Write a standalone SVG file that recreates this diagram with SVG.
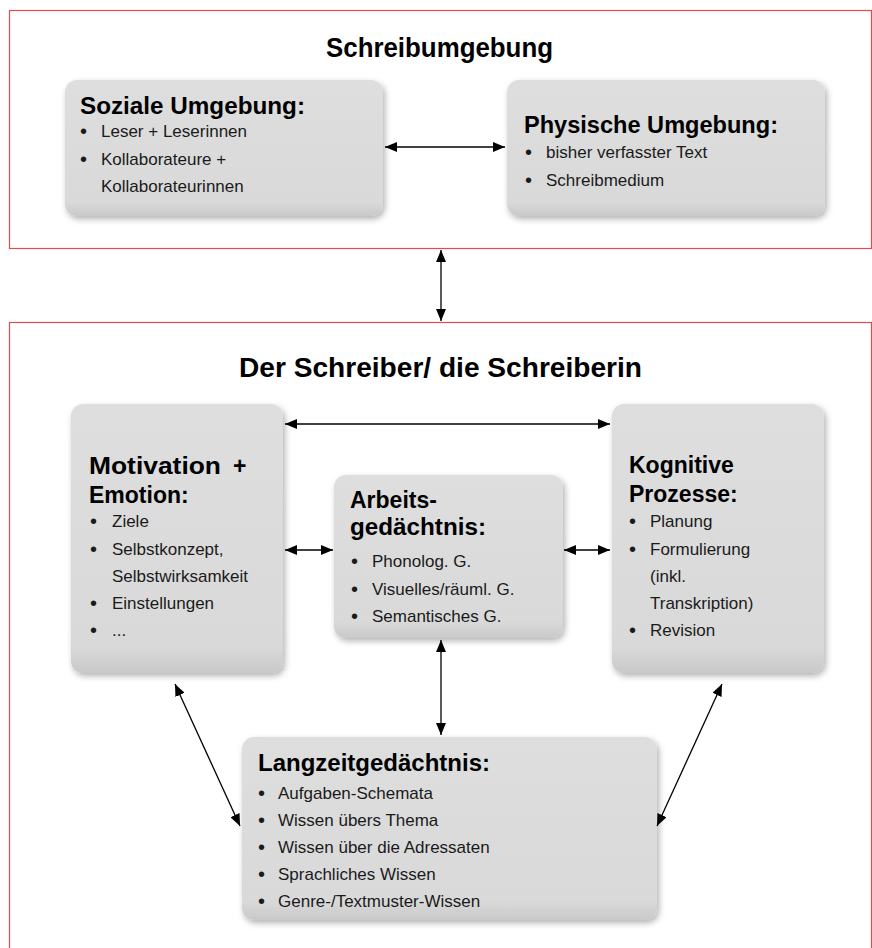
<svg xmlns="http://www.w3.org/2000/svg" width="872" height="948" viewBox="0 0 872 948">
<defs>
<linearGradient id="boxg" x1="0" y1="0" x2="0" y2="1">
<stop offset="0" stop-color="#dedede"/>
<stop offset="0.9" stop-color="#d9d9d9"/>
<stop offset="1" stop-color="#c9c9c9"/>
</linearGradient>
<filter id="sh" x="-10%" y="-10%" width="130%" height="130%">
<feDropShadow dx="2" dy="3" stdDeviation="3" flood-color="#000" flood-opacity="0.3"/>
</filter>
<marker id="ah" viewBox="0 0 12 10" refX="12" refY="5" markerWidth="12" markerHeight="10" markerUnits="userSpaceOnUse" orient="auto-start-reverse">
<path d="M0,0 L12,5 L0,10 Z" fill="#000"/>
</marker>
<style>
.frame{fill:none;stroke:#e04a50;stroke-width:1.2}
.box{fill:url(#boxg);filter:url(#sh)}
.title{font-family:"Liberation Sans",Arial,sans-serif;font-weight:bold;font-size:27px;fill:#000}
.hd{font-family:"Liberation Sans",Arial,sans-serif;font-weight:bold;font-size:23px;fill:#000}
.tx{font-family:"Liberation Sans",Arial,sans-serif;font-size:17px;fill:#1a1a1a}
.bu{font-family:"Liberation Sans",Arial,sans-serif;font-size:20px;fill:#1a1a1a}
.con{stroke:#000;stroke-width:1.3;fill:none;marker-start:url(#ah);marker-end:url(#ah)}
</style>
</defs>
<rect width="872" height="948" fill="#fff"/>

<g id="frame-umgebung">
<rect class="frame" x="9.5" y="10.5" width="862" height="238"/>
<text class="title" x="326" y="57" textLength="227" lengthAdjust="spacingAndGlyphs">Schreibumgebung</text>
</g>
<g id="frame-schreiber">
<rect class="frame" x="9.5" y="322.5" width="862" height="640"/>
<text class="title" x="239" y="377" textLength="403" lengthAdjust="spacingAndGlyphs">Der Schreiber/ die Schreiberin</text>
</g>

<g id="soziale">
<rect class="box" x="65" y="80" width="318" height="136" rx="12"/>
<text class="hd" x="80" y="114" textLength="225" lengthAdjust="spacingAndGlyphs">Soziale Umgebung:</text>
<text class="bu"><tspan x="80" y="138">•</tspan><tspan x="80" y="166">•</tspan></text>
<text class="tx"><tspan x="101" y="137">Leser + Leserinnen</tspan><tspan x="101" y="165">Kollaborateure +</tspan><tspan x="101" y="192">Kollaborateurinnen</tspan></text>
</g>

<g id="physische">
<rect class="box" x="507" y="80" width="318" height="136" rx="12"/>
<text class="hd" x="524" y="133" textLength="254" lengthAdjust="spacingAndGlyphs">Physische Umgebung:</text>
<text class="bu"><tspan x="525" y="159">•</tspan><tspan x="525" y="187">•</tspan></text>
<text class="tx"><tspan x="546" y="158">bisher verfasster Text</tspan><tspan x="546" y="186">Schreibmedium</tspan></text>
</g>

<g id="motivation">
<rect class="box" x="71" y="404" width="212" height="269" rx="12"/>
<text class="hd" x="89" y="474"><tspan textLength="132" lengthAdjust="spacingAndGlyphs">Motivation</tspan><tspan x="233">+</tspan></text>
<text class="hd" x="89" y="503">Emotion:</text>
<text class="bu"><tspan x="90" y="528">•</tspan><tspan x="90" y="556">•</tspan><tspan x="90" y="610">•</tspan><tspan x="90" y="637">•</tspan></text>
<text class="tx"><tspan x="112" y="527">Ziele</tspan><tspan x="112" y="555">Selbstkonzept,</tspan><tspan x="112" y="582">Selbstwirksamkeit</tspan><tspan x="112" y="609">Einstellungen</tspan><tspan x="112" y="636">...</tspan></text>
</g>

<g id="arbeits">
<rect class="box" x="334" y="475" width="229" height="163" rx="12"/>
<text class="hd" x="350" y="508">Arbeits-</text>
<text class="hd" x="350" y="535" textLength="136" lengthAdjust="spacingAndGlyphs">gedächtnis:</text>
<text class="bu"><tspan x="351" y="568">•</tspan><tspan x="351" y="596">•</tspan><tspan x="351" y="623">•</tspan></text>
<text class="tx"><tspan x="372" y="567">Phonolog. G.</tspan><tspan x="372" y="595">Visuelles/räuml. G.</tspan><tspan x="372" y="622">Semantisches G.</tspan></text>
</g>

<g id="kognitive">
<rect class="box" x="612" y="404" width="212" height="269" rx="12"/>
<text class="hd" x="629" y="473">Kognitive</text>
<text class="hd" x="629" y="502">Prozesse:</text>
<text class="bu"><tspan x="629" y="528">•</tspan><tspan x="629" y="556">•</tspan><tspan x="629" y="637">•</tspan></text>
<text class="tx"><tspan x="650" y="527">Planung</tspan><tspan x="650" y="555">Formulierung</tspan><tspan x="650" y="582">(inkl.</tspan><tspan x="650" y="609">Transkription)</tspan><tspan x="650" y="636">Revision</tspan></text>
</g>

<g id="langzeit">
<rect class="box" x="242" y="737" width="415" height="183" rx="12"/>
<text class="hd" x="258" y="771" textLength="232" lengthAdjust="spacingAndGlyphs">Langzeitgedächtnis:</text>
<text class="bu"><tspan x="258" y="800">•</tspan><tspan x="258" y="827">•</tspan><tspan x="258" y="854">•</tspan><tspan x="258" y="881">•</tspan><tspan x="258" y="908">•</tspan></text>
<text class="tx"><tspan x="278" y="799">Aufgaben-Schemata</tspan><tspan x="278" y="826">Wissen übers Thema</tspan><tspan x="278" y="853">Wissen über die Adressaten</tspan><tspan x="278" y="880">Sprachliches Wissen</tspan><tspan x="278" y="907">Genre-/Textmuster-Wissen</tspan></text>
</g>

<g id="connectors">
<line class="con" x1="385" y1="147" x2="505" y2="147"/>
<line class="con" x1="441" y1="250" x2="441" y2="321"/>
<line class="con" x1="285" y1="424" x2="610" y2="424"/>
<line class="con" x1="285" y1="550" x2="333" y2="550"/>
<line class="con" x1="564" y1="550" x2="610" y2="550"/>
<line class="con" x1="441" y1="640" x2="441" y2="735"/>
<line class="con" x1="175" y1="684" x2="240" y2="826"/>
<line class="con" x1="722" y1="684" x2="657" y2="826"/>
</g>
</svg>
